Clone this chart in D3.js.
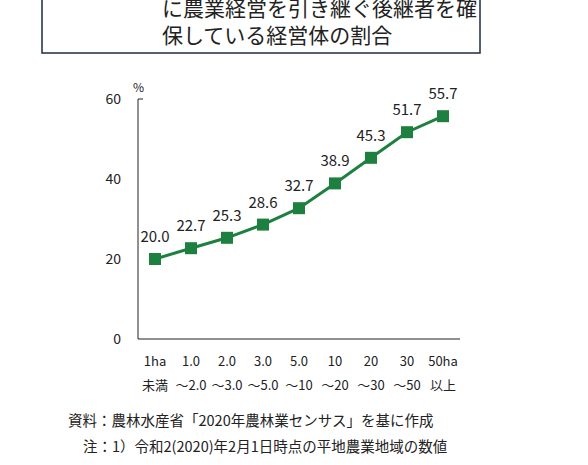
<!DOCTYPE html><html><head><meta charset="utf-8"><script src="https://cdn.jsdelivr.net/npm/d3@7"></script>
<style>body{margin:0;background:#fff}text{font-family:"Noto Sans CJK JP","Noto Sans",sans-serif}</style></head><body>
<svg width="588" height="465"></svg>
<script>
const cats1=["1ha","1.0","2.0","3.0","5.0","10","20","30","50ha"];
const cats2=["未満","～2.0","～3.0","～5.0","～10","～20","～30","～50","以上"];
const values=[20.0,22.7,25.3,28.6,32.7,38.9,45.3,51.7,55.7];
const yTicks=[0,20,40,60];
const svg=d3.select("svg");
svg.append("rect").attr("x",42).attr("y",-10).attr("width",438).attr("height",63).attr("fill","none").attr("stroke","#1f2a4a").attr("stroke-width",1.5);
svg.append("text").attr("x",162).attr("y",16).attr("font-size",21).attr("fill","#222").text("に農業経営を引き継ぐ後継者を確");
svg.append("text").attr("x",162).attr("y",43).attr("font-size",21).attr("fill","#222").text("保している経営体の割合");
const x=d3.scalePoint().domain(d3.range(9)).range([155,443]);
const y=d3.scaleLinear().domain([0,60]).range([339,99]);
svg.append("path").attr("d",`M143,${y(60)}H138V${y(0)}H460`).attr("fill","none").attr("stroke","#222").attr("stroke-width",1);
yTicks.forEach(t=>svg.append("text").attr("x",121).attr("y",y(t)+5).attr("text-anchor","end").attr("font-size",14).attr("fill","#222").text(t));
svg.append("text").attr("x",133).attr("y",92).attr("font-size",12).attr("fill","#222").text("%");
const g="#1e8040";
svg.append("path").datum(values).attr("d",d3.line().x((d,i)=>x(i)).y(d=>y(d))).attr("fill","none").attr("stroke",g).attr("stroke-width",3);
svg.selectAll("rect.m").data(values).join("rect").attr("x",(d,i)=>x(i)-6).attr("y",d=>y(d)-6).attr("width",12).attr("height",12).attr("fill",g);
svg.selectAll("text.v").data(values).join("text").attr("x",(d,i)=>x(i)).attr("y",d=>y(d)-17).attr("text-anchor","middle").attr("font-size",15).attr("fill","#222").text(d=>d.toFixed(1));
svg.selectAll("text.c1").data(cats1).join("text").attr("x",(d,i)=>x(i)).attr("y",366).attr("text-anchor","middle").attr("font-size",13).attr("fill","#222").text(d=>d);
svg.selectAll("text.c2").data(cats2).join("text").attr("x",(d,i)=>x(i)).attr("y",390).attr("text-anchor","middle").attr("font-size",13).attr("fill","#222").text(d=>d);
svg.append("text").attr("x",68).attr("y",426).attr("font-size",14.5).attr("fill","#222").text("資料：農林水産省「2020年農林業センサス」を基に作成");
svg.append("text").attr("x",83).attr("y",452).attr("font-size",14.5).attr("fill","#222").text("注：1）令和2(2020)年2月1日時点の平地農業地域の数値");
</script></body></html>
